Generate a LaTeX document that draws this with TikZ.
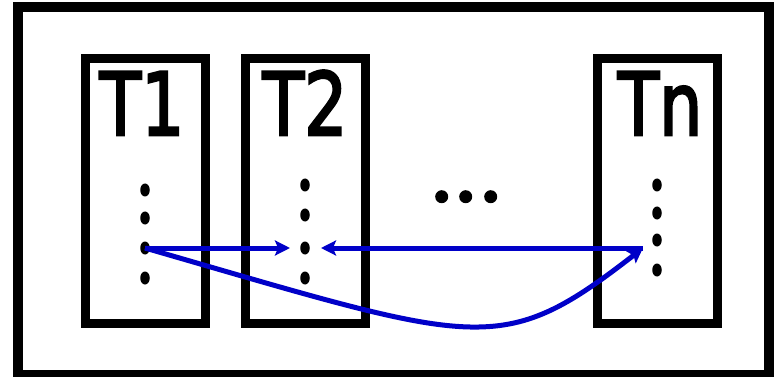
\documentclass[tikz,border=0pt]{standalone}
\usepackage{fontspec}
\setmainfont{DejaVu Sans}
\newfontfamily\lblfont[FakeBold=3]{DejaVu Sans}
\usetikzlibrary{arrows.meta,shapes.geometric}
\definecolor{arrowblue}{RGB}{0,0,200}
\tikzset{
  frame/.style={draw=black,line width=10pt},
  thread/.style={draw=black,line width=9pt,minimum width=120pt,minimum height=264pt,inner sep=0pt},
  vdot/.style={ellipse,fill=black,minimum width=9.5pt,minimum height=13pt,inner sep=0pt},
  hdot/.style={ellipse,fill=black,minimum width=13pt,minimum height=13pt,inner sep=0pt},
  label/.style={font=\lblfont\fontsize{87}{87}\selectfont,inner sep=0pt,anchor=base},
  conn/.style={draw=arrowblue,line width=5pt,-{Stealth[length=15pt,width=15pt,inset=3pt]}}
}
\begin{document}
\begin{tikzpicture}[x=1pt,y=-1pt]
\useasboundingbox (0,0) rectangle (777,377);
\draw[frame] (17.5,7.5) rectangle (769,375);
% thread boxes
\node[thread] (b1) at (145,191) {};
\node[thread] (b2) at (305.5,191) {};
\node[thread] (bn) at (657.5,191) {};
% labels
\node[label] (l1) at (142,135) {\scalebox{0.78}[1]{T1}};
\node[label] (l2) at (305,135) {\scalebox{0.78}[1]{T2}};
\node[label] (ln) at (660,135) {\scalebox{0.78}[1]{Tn}};
% dots
\node[vdot] (a1) at (145,190) {};
\node[vdot] (a2) at (145,218) {};
\node[vdot] (a3) at (145,248) {};
\node[vdot] (a4) at (145,278) {};
\node[vdot] (c1) at (305,185) {};
\node[vdot] (c2) at (305,215) {};
\node[vdot] (c3) at (305,248) {};
\node[vdot] (c4) at (305,278) {};
\node[vdot] (n1) at (657,185) {};
\node[vdot] (n2) at (657,213) {};
\node[vdot] (n3) at (657,240) {};
\node[vdot] (n4) at (657,270) {};
\node[hdot] (e1) at (441.7,196.7) {};
\node[hdot] (e2) at (465.7,196.7) {};
\node[hdot] (e3) at (490.7,196.7) {};
% connector anchors
\coordinate (s) at (a3.center);
\coordinate (t2l) at (290,248);
\coordinate (t2r) at (321,248);
\coordinate (tn) at (643,248);
\draw[conn] (s) -- (t2l);
\draw[conn] (tn) -- (t2r);
\draw[conn] (s) .. controls (481,345) and (500,359) .. (tn);
\end{tikzpicture}
\end{document}
